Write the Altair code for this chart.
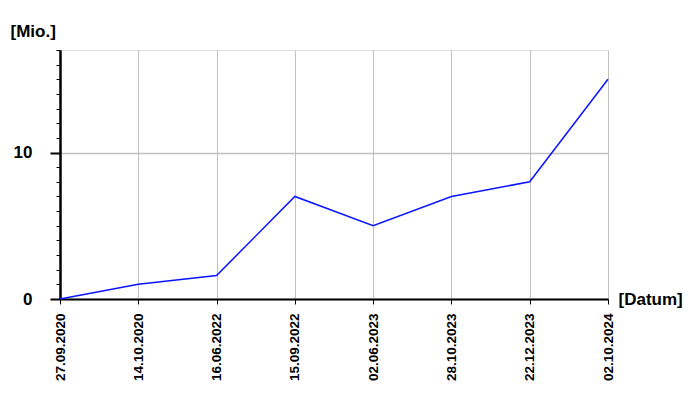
import altair as alt
import pandas as pd

dates = ["27.09.2020", "14.10.2020", "16.06.2022", "15.09.2022",
         "02.06.2023", "28.10.2023", "22.12.2023", "02.10.2024"]
values = [0.0, 1.0, 1.6, 7.0, 5.0, 7.0, 8.0, 15.0]
major_ticks = [0, 10]
minor_ticks = list(range(0, 18))

df = pd.DataFrame({"date": dates, "value": values})

FONT = "Liberation Sans"

xenc = alt.X(
    "date:O", sort=dates,
    scale=alt.Scale(type="point", padding=0),
    axis=alt.Axis(
        title="[Datum]", titleAngle=0, titleX=558, titleY=0,
        titleAlign="left", titleBaseline="middle",
        titleFont=FONT, titleFontSize=17, titleFontWeight="bold", titleColor="black",
        labelAngle=270, labelFont=FONT, labelFontSize=13.5, labelFontWeight="bold",
        labelColor="black",
        labelPadding=9, ticks=True, tickSize=5, tickColor="black", tickWidth=1,
        domainColor="black", domainWidth=2,
        grid=True, gridColor="#c0c0c0", gridWidth=1,
    ),
)

yscale = alt.Scale(domain=[0, 17], nice=False, zero=True)

minor = alt.Chart(df).mark_line(opacity=0).encode(
    x=xenc,
    y=alt.Y("value:Q", scale=yscale, axis=alt.Axis(
        orient="left", values=minor_ticks, labels=False, grid=False,
        tickSize=4, tickColor="black", tickWidth=1,
        domainColor="black", domainWidth=2, title=None,
    )),
)

line = alt.Chart(df).mark_line(color="#0a14ff", strokeWidth=1.5).encode(
    x=xenc,
    y=alt.Y("value:Q", scale=yscale, axis=alt.Axis(
        orient="left", values=major_ticks, format="d",
        labelFont=FONT, labelFontSize=17, labelFontWeight="bold",
        labelColor="black", labelPadding=18,
        tickSize=10, tickColor="black", tickWidth=2,
        domainColor="black", domainWidth=2,
        grid=True, gridColor="#c0c0c0", gridWidth=1.5,
        title="[Mio.]", titleAngle=0, titleX=-50, titleY=-19,
        titleAlign="left", titleBaseline="middle",
        titleFont=FONT, titleFontSize=17, titleFontWeight="bold", titleColor="black",
    )),
)

chart = alt.layer(minor, line).resolve_axis(y="independent").properties(
    width=548, height=249,
    autosize=alt.AutoSizeParams(type="none"),
    padding={"left": 52, "top": 42, "right": 84, "bottom": 93},
).configure_view(stroke=None).configure(background="white")

chart.save("out.html", embed_options={"renderer": "svg", "actions": False})
